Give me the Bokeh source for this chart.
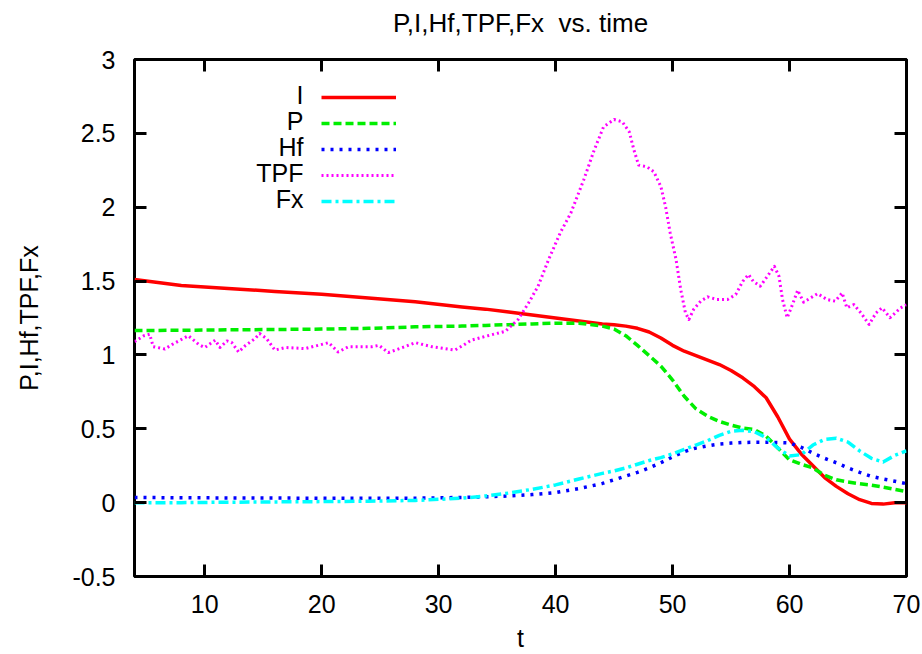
from bokeh.plotting import figure
from bokeh.models import Legend, LegendItem, Label, LinearAxis, FixedTicker
from bokeh.core.properties import value
from bokeh.embed import file_html
from bokeh.resources import INLINE

# ---------------- data ----------------
t_smooth = [4, 8, 12, 16, 20, 24, 28, 32, 34, 36, 38, 40, 42, 44, 45, 46, 47, 48, 49, 50,
            51, 52, 53, 54, 55, 56, 57, 58, 59, 60, 61, 62, 63, 64, 65, 66, 67, 68, 69, 70]

I_vals = [1.51, 1.47, 1.45, 1.43, 1.41, 1.385, 1.36, 1.325, 1.31, 1.29, 1.27, 1.25, 1.23, 1.21,
          1.205, 1.195, 1.18, 1.155, 1.115, 1.065, 1.025, 0.995, 0.965, 0.935, 0.895, 0.845,
          0.785, 0.71, 0.58, 0.43, 0.33, 0.25, 0.17, 0.11, 0.06, 0.02, -0.005, -0.01, 0.0, 0.0]

P_vals = [1.165, 1.167, 1.17, 1.172, 1.175, 1.18, 1.19, 1.195, 1.2, 1.205, 1.21, 1.215, 1.215,
          1.195, 1.175, 1.13, 1.065, 0.995, 0.925, 0.83, 0.72, 0.635, 0.585, 0.55, 0.525, 0.505,
          0.495, 0.45, 0.37, 0.29, 0.26, 0.235, 0.185, 0.155, 0.14, 0.128, 0.118, 0.105, 0.09, 0.075]

Hf_vals = [0.035, 0.033, 0.032, 0.031, 0.03, 0.03, 0.03, 0.035, 0.04, 0.045, 0.055, 0.068, 0.095,
           0.13, 0.155, 0.18, 0.205, 0.235, 0.27, 0.31, 0.345, 0.37, 0.385, 0.397, 0.403, 0.407,
           0.409, 0.409, 0.407, 0.404, 0.375, 0.335, 0.3, 0.27, 0.235, 0.205, 0.178, 0.16, 0.145, 0.128]

Fx_vals = [0.0, 0.0, 0.003, 0.005, 0.007, 0.01, 0.015, 0.03, 0.045, 0.065, 0.09, 0.12, 0.16, 0.198,
           0.215, 0.235, 0.26, 0.285, 0.305, 0.33, 0.36, 0.39, 0.42, 0.455, 0.483, 0.49, 0.48, 0.44,
           0.37, 0.316, 0.325, 0.39, 0.428, 0.436, 0.41, 0.35, 0.3, 0.275, 0.32, 0.35]

t_tpf = [4.0, 4.3, 4.8, 5.3, 5.6, 6.6, 7.2, 8.6, 9.5, 10.0, 10.9, 11.3, 11.9, 12.3, 12.9, 13.5,
         14.3, 14.7, 15.3, 16.0, 16.9, 18.6, 19.7, 20.6, 21.4, 22.3, 24.3, 24.9, 25.7, 26.9, 28.0,
         29.4, 31.4, 32.1, 32.8, 34.3, 35.7, 36.8, 37.7, 38.5, 39.4, 40.4, 41.3, 42.4, 43.3, 44.1,
         45.0, 45.7, 46.3, 46.7, 47.1, 47.8, 48.4, 49.0, 49.4, 49.8, 50.3, 50.7, 51.1, 51.4, 51.8,
         52.4, 53.0, 53.8, 54.7, 55.4, 56.0, 56.5, 56.9, 57.5, 58.1, 58.7, 59.1, 59.4, 59.8, 60.2,
         60.7, 61.2, 62.4, 63.2, 63.9, 64.5, 64.9, 65.5, 66.1, 66.8, 67.4, 67.9, 68.6, 69.5, 70.0]

TPF_vals = [1.09, 1.105, 1.13, 1.14, 1.056, 1.04, 1.07, 1.13, 1.07, 1.05, 1.10, 1.05, 1.095, 1.085,
            1.02, 1.065, 1.11, 1.145, 1.11, 1.033, 1.05, 1.043, 1.065, 1.083, 1.02, 1.056, 1.056,
            1.065, 1.016, 1.05, 1.083, 1.056, 1.033, 1.065, 1.10, 1.132, 1.16, 1.24, 1.353, 1.465,
            1.645, 1.827, 1.96, 2.184, 2.387, 2.544, 2.594, 2.578, 2.51, 2.387, 2.285, 2.274, 2.24,
            2.14, 2.004, 1.825, 1.645, 1.442, 1.285, 1.24, 1.308, 1.364, 1.393, 1.375, 1.375, 1.409,
            1.498, 1.544, 1.498, 1.465, 1.532, 1.6, 1.532, 1.375, 1.252, 1.33, 1.438, 1.357, 1.415,
            1.375, 1.364, 1.42, 1.319, 1.341, 1.285, 1.206, 1.285, 1.319, 1.252, 1.319, 1.34]

series_names = ["I", "P", "Hf", "TPF", "Fx"]
x_ticks = [10, 20, 30, 40, 50, 60, 70]
y_ticks = [-0.5, 0, 0.5, 1, 1.5, 2, 2.5, 3]
y_tick_labels = ["-0.5", "0", "0.5", "1", "1.5", "2", "2.5", "3"]
title_text = "P,I,Hf,TPF,Fx\u00a0 vs. time"
x_label = "t"
y_label = "P,I,Hf,TPF,Fx"

# ---------------- figure ----------------
FONT = "Liberation Sans"
FS = "25px"

p = figure(width=922, height=654, x_range=(4, 70), y_range=(-0.5, 3), title=None,
           output_backend="svg", toolbar_location=None,
           min_border_left=134, min_border_right=16, min_border_top=59, min_border_bottom=76)
p.xgrid.visible = False
p.ygrid.visible = False
p.outline_line_color = "black"
p.outline_line_width = 3
p.background_fill_color = "white"
p.border_fill_color = "white"

def style_axis(ax, ticks):
    ax.ticker = FixedTicker(ticks=ticks)
    ax.major_tick_in = 12
    ax.major_tick_out = 0
    ax.major_tick_line_width = 3
    ax.major_tick_line_color = "black"
    ax.minor_tick_line_color = None
    ax.axis_line_color = None
    ax.major_label_text_font = FONT
    ax.major_label_text_font_size = FS
    ax.major_label_text_color = "black"
    ax.axis_label_text_font = FONT
    ax.axis_label_text_font_size = FS
    ax.axis_label_text_font_style = "normal"
    ax.axis_label_text_color = "black"

xa = p.xaxis[0]
ya = p.yaxis[0]
style_axis(xa, x_ticks)
style_axis(ya, y_ticks)
xa.major_label_standoff = 18
ya.major_label_standoff = 19
ya.major_label_overrides = {v: s for v, s in zip(y_ticks, y_tick_labels)}
xa.axis_label = x_label
ya.axis_label = y_label
xa.axis_label_standoff = 8
ya.axis_label_standoff = 26

# mirrored tick marks (no tick labels drawn); the top one carries the chart title
mirror = {}
for loc, ticks in (("right", y_ticks), ("above", x_ticks)):
    ax = LinearAxis()
    style_axis(ax, ticks)
    ax.major_label_text_font_size = "1px"
    ax.major_label_text_color = None
    ax.major_label_overrides = {v: "" for v in ticks}
    ax.major_label_standoff = 0
    p.add_layout(ax, loc)
    mirror[loc] = ax
top_ax = mirror["above"]
top_ax.axis_label = title_text
top_ax.axis_label_text_font_size = "26px"
top_ax.axis_label_standoff = 22

styles = {
    "I":   dict(color="#ff0000", dash="solid"),
    "P":   dict(color="#00ee00", dash="8 4"),
    "Hf":  dict(color="#0000ff", dash="3 6"),
    "TPF": dict(color="#ff00ff", dash="2 3"),
    "Fx":  dict(color="#00ffff", dash="10 4 3 4"),
}
data = {"I": (t_smooth, I_vals), "P": (t_smooth, P_vals), "Hf": (t_smooth, Hf_vals),
        "TPF": (t_tpf, TPF_vals), "Fx": (t_smooth, Fx_vals)}

renderers = []
for name in series_names:
    xs, ys = data[name]
    st = styles[name]
    r = p.line(xs, ys, line_color=st["color"], line_width=3.5 if name != "TPF" else 3,
               line_dash=st["dash"], line_join="round")
    renderers.append(r)

# legend samples (labels drawn separately, to the left, gnuplot style)
legend = Legend(items=[LegendItem(label=value(" "), renderers=[r]) for r in renderers],
                location=(187, 365), orientation="vertical", glyph_width=75, glyph_height=20,
                label_height=20, label_width=1, spacing=6, padding=0, margin=0,
                border_line_color=None, background_fill_alpha=0,
                label_text_font_size="1px", label_text_color=None, label_standoff=0)
p.add_layout(legend)

legend_label_x = 18.45
legend_label_y = [2.757, 2.581, 2.405, 2.23, 2.054]
for name, ly in zip(series_names, legend_label_y):
    p.add_layout(Label(x=legend_label_x, y=ly, text=name, text_align="right",
                       text_baseline="middle", text_font=FONT, text_font_size=FS,
                       text_color="black"))

open("out.html", "w").write(file_html(p, INLINE))
